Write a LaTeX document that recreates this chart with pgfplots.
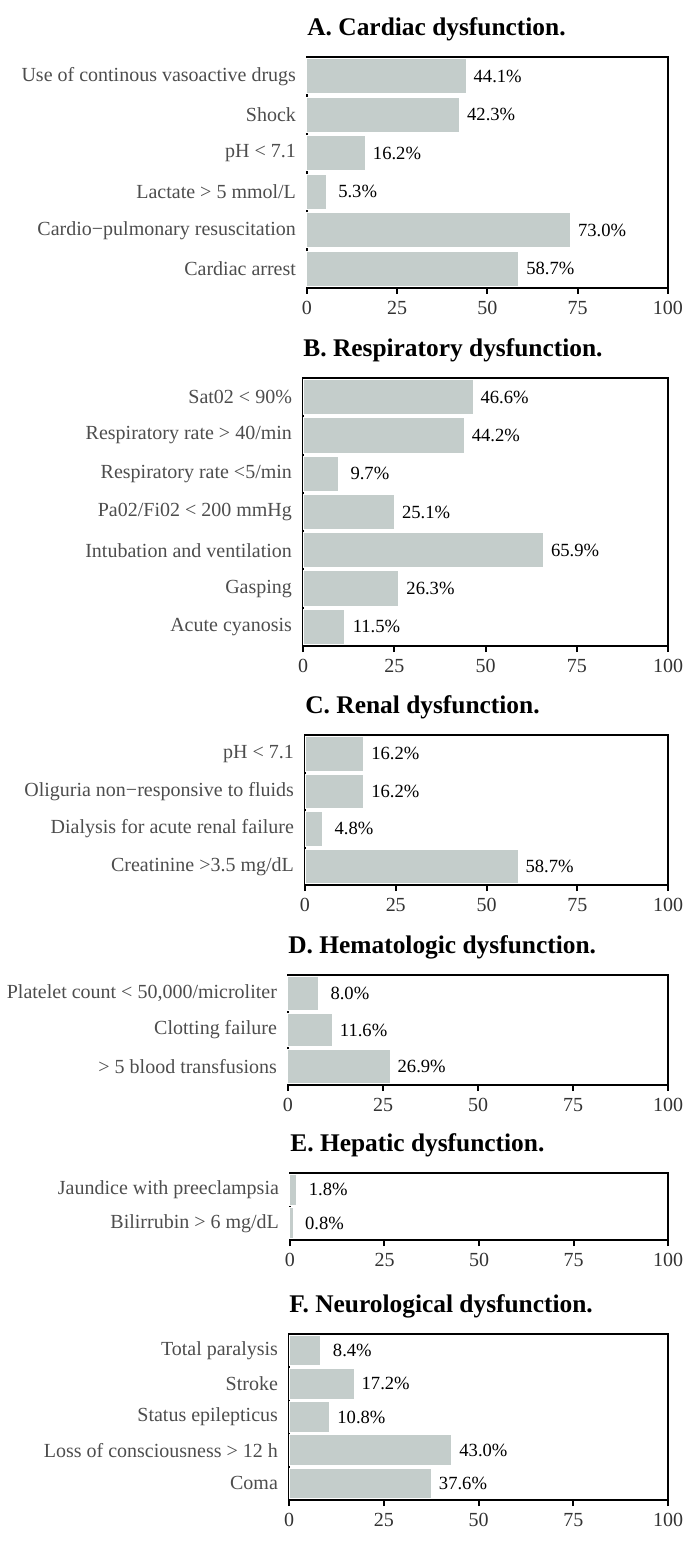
\documentclass[border=0pt]{standalone}
\usepackage{pgfplots}
\pgfplotsset{compat=1.18}
\usepackage{fontspec}
\setmainfont{Liberation Serif}

\definecolor{barfill}{RGB}{196,205,203}
\definecolor{labgray}{RGB}{77,77,77}
\definecolor{tickgray}{RGB}{51,51,51}

\pgfplotsset{
  panel/.style={
    xbar, scale only axis, clip=false,
    xmin=0, xmax=100, y dir=reverse,
    bar width=0.92,
    xtick={0,25,50,75,100}, xtick pos=left, tick align=outside,
    major tick length=3pt,
    xtick style={line width=1pt, black},
    ytick style={draw=none},
    axis line style={line width=1pt},
    /pgf/number format/assume math mode=true,
    xticklabel style={font=\fontsize{10}{12}\selectfont, text=tickgray},
    yticklabel style={font=\fontsize{10}{12}\selectfont, text=labgray, xshift=1pt},
    title style={at={(0,1)}, anchor=base west, yshift=5pt, inner sep=0pt,
      font=\bfseries\fontsize{12.7}{15}\selectfont},
    % label centred 15.5pt right of the bar end
    nodes near coords={\makebox[31pt][c]{\pgfmathprintnumber[fixed,fixed zerofill,precision=1]{\pgfplotspointmeta}\%}},
    every node near coord/.append style={inner sep=0pt,
      font=\fontsize{9.3}{11}\selectfont, black},
  },
  bars/.style={fill=barfill, draw=white, line width=0.5pt},
}

\begin{document}
\begin{tikzpicture}
\useasboundingbox (0,0) rectangle (343.5pt,-779.5pt);

% A
\begin{axis}[panel, at={(153.5pt,-28.5pt)}, anchor=north west,
  width=180.5pt, height=115.5pt,
  title={A. Cardiac dysfunction.},
  ymin=-0.5, ymax=5.5, ytick={0,...,5},
  yticklabels={Use of continous vasoactive drugs, Shock, pH < 7.1,
    Lactate > 5 mmol/L, Cardio−pulmonary resuscitation, Cardiac arrest}]
  \addplot[bars] coordinates {(44.1,0) (42.3,1) (16.2,2) (5.3,3) (73.0,4) (58.7,5)};
\end{axis}

% B
\begin{axis}[panel, at={(151.5pt,-189pt)}, anchor=north west,
  width=182.5pt, height=134pt,
  title={B. Respiratory dysfunction.},
  ymin=-0.5, ymax=6.5, ytick={0,...,6},
  yticklabels={Sat02 < 90\%, Respiratory rate > 40/min, Respiratory rate <5/min,
    Pa02/Fi02 < 200 mmHg, Intubation and ventilation, Gasping, Acute cyanosis}]
  \addplot[bars] coordinates {(46.6,0) (44.2,1) (9.7,2) (25.1,3) (65.9,4) (26.3,5) (11.5,6)};
\end{axis}

% C
\begin{axis}[panel, at={(152.5pt,-367.5pt)}, anchor=north west,
  width=181.5pt, height=75pt,
  title={C. Renal dysfunction.},
  ymin=-0.5, ymax=3.5, ytick={0,...,3},
  yticklabels={pH < 7.1, Oliguria non−responsive to fluids,
    Dialysis for acute renal failure, Creatinine >3.5 mg/dL}]
  \addplot[bars] coordinates {(16.2,0) (16.2,1) (4.8,2) (58.7,3)};
\end{axis}

% D
\begin{axis}[panel, at={(144pt,-487.5pt)}, anchor=north west,
  width=190pt, height=55pt,
  title={D. Hematologic dysfunction.},
  ymin=-0.5, ymax=2.5, ytick={0,...,2},
  yticklabels={{Platelet count < 50,000/microliter}, Clotting failure,
    > 5 blood transfusions}]
  \addplot[bars] coordinates {(8.0,0) (11.6,1) (26.9,2)};
\end{axis}

% E
\begin{axis}[panel, at={(145pt,-586.5pt)}, anchor=north west,
  width=189pt, height=33.5pt,
  title={E. Hepatic dysfunction.},
  ymin=-0.5, ymax=1.5, ytick={0,1},
  yticklabels={Jaundice with preeclampsia, Bilirrubin > 6 mg/dL}]
  \addplot[bars] coordinates {(1.8,0) (0.8,1)};
\end{axis}

% F
\begin{axis}[panel, at={(144.5pt,-667pt)}, anchor=north west,
  width=189.5pt, height=83pt,
  title={F. Neurological dysfunction.},
  ymin=-0.5, ymax=4.5, ytick={0,...,4},
  yticklabels={Total paralysis, Stroke, Status epilepticus,
    Loss of consciousness > 12 h, Coma}]
  \addplot[bars] coordinates {(8.4,0) (17.2,1) (10.8,2) (43.0,3) (37.6,4)};
\end{axis}

\end{tikzpicture}
\end{document}
